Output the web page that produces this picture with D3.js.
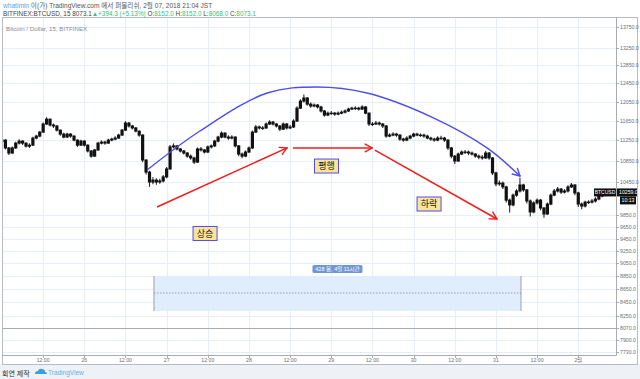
<!DOCTYPE html>
<html>
<head>
<meta charset="utf-8">
<script src="https://cdn.jsdelivr.net/npm/d3@7"></script>
<style>
  body { margin: 0; background: #fff; }
  svg { display: block; font-family: "Liberation Sans", "Noto Sans CJK KR", sans-serif; }
</style>
</head>
<body>
<div id="chart"></div>
<script>
// hourly candles, BITFINEX BTCUSD, from 2018-01-25 00:00
var startTime = new Date(2018, 0, 25, 0, 0);
var endTime = new Date(2018, 1, 1, 11, 0);

var opens = [
  11230,11255,11100,11000,11100,11195,11235,11195,11135,11155,
  11295,11335,11415,11580,11680,11560,11540,11455,11375,11315,
  11375,11335,11255,11155,11235,11155,11040,10940,11060,11195,
  11215,11195,11255,11275,11295,11355,11455,11600,11540,11500,
  11435,11355,10865,10635,10450,10485,10450,10470,10545,10695,
  11120,11140,11080,11040,11000,10940,10905,10825,11080,11060,
  11020,11120,11140,11235,11315,11395,11315,11295,11315,11140,
  10980,10940,11020,11100,11415,11520,11500,11500,11580,11620,
  11580,11540,11475,11580,11500,11520,11640,11910,12060,12125,
  11995,11955,11975,11935,11850,11765,11805,11805,11785,11805,
  11825,11850,11890,11910,11910,11890,11935,11805,11580,11580,
  11600,11580,11540,11335,11355,11375,11355,11275,11255,11295,
  11335,11375,11355,11355,11335,11295,11275,11255,11295,11295,
  11255,11100,10940,10845,10980,11020,11020,11000,10980,10940,
  10920,10905,11000,10905,10620,10415,10430,10360,10120,10035,
  10210,10285,10395,10305,10105,9910,10070,10120,9980,9875,
  10050,10210,10285,10320,10265,10285,10360,10395,10250,10050,
  10015,10085,10085,10105,10140,10195,10210,10230,10250,10265
];
var highs = [
  11290,11270,11120,11130,11220,11270,11250,11210,11190,11320,
  11360,11440,11610,11720,11690,11590,11560,11470,11400,11400,
  11390,11350,11270,11260,11250,11170,11060,11080,11220,11250,
  11240,11280,11300,11330,11380,11480,11640,11620,11560,11520,
  11450,11370,10880,10660,10540,10520,10510,10580,10730,11160,
  11190,11160,11100,11060,11020,10970,10930,11110,11120,11080,
  11150,11170,11260,11340,11430,11410,11350,11350,11330,11160,
  11010,11050,11130,11450,11560,11550,11540,11610,11660,11640,
  11600,11560,11610,11600,11560,11680,11950,12100,12200,12150,
  12030,12010,12000,11960,11870,11840,11850,11830,11840,11860,
  11880,11920,11940,11950,11940,11970,11950,11820,11620,11640,
  11630,11600,11560,11390,11410,11400,11370,11300,11330,11360,
  11400,11400,11390,11380,11360,11320,11300,11330,11340,11320,
  11270,11120,10960,11010,11050,11060,11050,11030,11000,10970,
  10960,11040,11020,10920,10640,10480,10460,10380,10150,10240,
  10320,10530,10420,10320,10130,10100,10150,10140,10000,10080,
  10240,10320,10360,10340,10320,10390,10430,10410,10270,10080,
  10110,10120,10140,10170,10220,10240,10260,10280,10290,10290
];
var lows = [
  11200,11070,10960,10985,11080,11170,11160,11110,11100,11140,
  11270,11310,11400,11560,11530,11500,11430,11340,11290,11300,
  11300,11230,11120,11140,11130,11010,10910,10930,11045,11170,
  11165,11180,11230,11250,11280,11340,11440,11510,11470,11410,
  11320,10820,10590,10360,10410,10400,10420,10440,10520,10680,
  11090,11050,11010,10970,10910,10870,10790,10810,11030,10990,
  11000,11090,11120,11210,11290,11290,11260,11270,11110,10940,
  10900,10920,11000,11080,11400,11470,11460,11480,11560,11550,
  11510,11440,11460,11470,11480,11500,11620,11890,12030,11960,
  11920,11930,11900,11820,11730,11740,11770,11750,11760,11780,
  11800,11830,11870,11870,11860,11870,11780,11540,11540,11560,
  11550,11500,11300,11310,11330,11320,11240,11220,11230,11270,
  11310,11330,11320,11300,11270,11240,11220,11230,11260,11220,
  11060,10900,10790,10830,10960,10980,10960,10950,10910,10880,
  10870,10890,10870,10580,10370,10380,10320,10080,9900,10010,
  10180,10260,10270,10060,9830,9890,10040,9940,9810,9860,
  10030,10190,10260,10230,10240,10260,10340,10210,10000,9960,
  9990,10050,10060,10080,10120,10170,10190,10210,10230,10230
];
var closes = [
  11255,11100,11000,11100,11195,11235,11195,11135,11155,11295,
  11335,11415,11580,11680,11560,11540,11455,11375,11315,11375,
  11335,11255,11155,11235,11155,11040,10940,11060,11195,11215,
  11195,11255,11275,11295,11355,11455,11600,11540,11500,11435,
  11355,10865,10635,10450,10485,10450,10470,10545,10695,11120,
  11140,11080,11040,11000,10940,10905,10825,11080,11060,11020,
  11120,11140,11235,11315,11395,11315,11295,11315,11140,10980,
  10940,11020,11100,11415,11520,11500,11500,11580,11620,11580,
  11540,11475,11580,11500,11520,11640,11910,12060,12125,11995,
  11955,11975,11935,11850,11765,11805,11805,11785,11805,11825,
  11850,11890,11910,11910,11890,11935,11805,11580,11580,11600,
  11580,11540,11335,11355,11375,11355,11275,11255,11295,11335,
  11375,11355,11355,11335,11295,11275,11255,11295,11295,11255,
  11100,10940,10845,10980,11020,11020,11000,10980,10940,10920,
  10905,11000,10905,10620,10415,10430,10360,10120,10035,10210,
  10285,10395,10305,10105,9910,10070,10120,9980,9875,10050,
  10210,10285,10320,10265,10285,10360,10395,10250,10050,10015,
  10085,10085,10105,10140,10195,10210,10230,10250,10265,10259
];

var priceTicks = [13750,13250,12850,12450,12050,11650,11250,10850,10450,9850,9650,9450,9250,9050,8850,8650,8450,8250,7900,7730];
var timeTicks = ["2018-01-25T12:00","2018-01-26T00:00","2018-01-26T12:00","2018-01-27T00:00","2018-01-27T12:00","2018-01-28T00:00","2018-01-28T12:00","2018-01-29T00:00","2018-01-29T12:00","2018-01-30T00:00","2018-01-30T12:00","2018-01-31T00:00","2018-01-31T12:00","2018-02-01T00:00"];
var timeLabels = ["12:00","26","12:00","27","12:00","28","12:00","29","12:00","30","12:00","31","12:00","2월"];
var lastPrice = 10259;
var sepPrice = 8070;

// annotation anchors (hour offset from start, price)
var arcPoints = [[42.3,10674],[57.7,11437],[77.3,12233],[91.8,12364],[106.4,12233],[125.9,11703],[141.4,11100],[151.0,10562]];
var redArrows = [
  [[45.2,9998],[83.1,11100]],
  [[84.8,11100],[107.9,11100]],
  [[108.7,11058],[144.3,9788]]
];
var tags = [["상승",59.2,9540],["평행",94.6,10750],["하락",124.5,10051]];
var rangeBox = {h0: 44.3, h1: 151.3, top: 8848, bottom: 8316, mid: 8586, label: "428 봉, 4일 11시간"};

var width = 640, height = 379;
var left = 2, right = 616, topY = 17, plotBottom = 355, frameRight = 637, frameBottom = 364;

var svg = d3.select("#chart").append("svg")
  .attr("width", width).attr("height", height);

svg.append("rect").attr("x", 0).attr("y", 364).attr("width", width).attr("height", 15).attr("fill", "#eef1f5");
svg.append("rect").attr("x", left + 0.5).attr("y", topY + 0.5)
  .attr("width", frameRight - left).attr("height", frameBottom - topY)
  .attr("fill", "#fff").attr("stroke", "#b7bbc2");

var x = d3.scaleTime().domain([startTime, endTime]).range([left, right]);
var y = d3.scaleLog().domain([sepPrice, 13750]).range([328, 27]);
var hx = function(h) { return x(new Date(startTime.getTime() + h * 3600000)); };

svg.append("defs").append("clipPath").attr("id", "plot")
  .append("rect").attr("x", left + 1).attr("y", topY + 1).attr("width", right - left - 1).attr("height", plotBottom - topY - 1);

// grid
var grid = svg.append("g");
grid.selectAll(".vg").data(timeTicks).enter().append("line")
  .attr("x1", d => Math.round(x(new Date(d))) + 0.5).attr("x2", d => Math.round(x(new Date(d))) + 0.5)
  .attr("y1", topY + 1).attr("y2", plotBottom)
  .attr("stroke", "#e8eef6");
grid.selectAll(".hg").data(priceTicks).enter().append("line")
  .attr("x1", left + 1).attr("x2", right)
  .attr("y1", d => Math.round(y(d)) + 0.5).attr("y2", d => Math.round(y(d)) + 0.5)
  .attr("stroke", "#e8eef6");

// range measure box
var rb = svg.append("g");
rb.append("rect")
  .attr("x", hx(rangeBox.h0)).attr("y", y(rangeBox.top))
  .attr("width", hx(rangeBox.h1) - hx(rangeBox.h0)).attr("height", y(rangeBox.bottom) - y(rangeBox.top))
  .attr("fill", "#ddebfc").attr("fill-opacity", 0.9);
[rangeBox.h0, rangeBox.h1].forEach(function(h) {
  rb.append("line").attr("x1", hx(h)).attr("x2", hx(h))
    .attr("y1", y(rangeBox.top)).attr("y2", y(rangeBox.bottom))
    .attr("stroke", "#9aa0a8").attr("stroke-width", 1);
});
rb.append("line")
  .attr("x1", hx(rangeBox.h0)).attr("x2", hx(rangeBox.h1))
  .attr("y1", y(rangeBox.mid)).attr("y2", y(rangeBox.mid))
  .attr("stroke", "#9aa0a8").attr("stroke-dasharray", "1.5,1.5");
var lblX = (hx(rangeBox.h0) + hx(rangeBox.h1)) / 2;
rb.append("rect").attr("x", lblX - 25).attr("y", y(rangeBox.top) - 11)
  .attr("width", 50).attr("height", 8).attr("rx", 1.5)
  .attr("fill", "#6f97d3");
rb.append("text").attr("x", lblX).attr("y", y(rangeBox.top) - 4.6)
  .attr("text-anchor", "middle").attr("font-size", 5.5).attr("fill", "#fff")
  .text(rangeBox.label);

// separator line at 8070
svg.append("line").attr("x1", left + 1).attr("x2", right)
  .attr("y1", Math.round(y(sepPrice)) + 0.5).attr("y2", Math.round(y(sepPrice)) + 0.5)
  .attr("stroke", "#a8acb2");

// candles
var bars = d3.range(closes.length);
var candles = svg.append("g").attr("clip-path", "url(#plot)");
candles.selectAll(".wick").data(bars).enter().append("line")
  .attr("x1", d => hx(d)).attr("x2", d => hx(d))
  .attr("y1", d => y(highs[d])).attr("y2", d => y(lows[d]))
  .attr("stroke", "#2a2a2a").attr("stroke-width", 1.1);
candles.selectAll(".body").data(bars).enter().append("rect")
  .attr("x", d => hx(d) - 1.6)
  .attr("y", d => y(Math.max(opens[d], closes[d])) - 0.5)
  .attr("width", 3.2)
  .attr("height", d => Math.max(1.5, Math.abs(y(opens[d]) - y(closes[d])) + 1))
  .attr("fill", "#111");

// blue arc
var arcLine = d3.line().x(d => hx(d[0])).y(d => y(d[1])).curve(d3.curveCatmullRom);
var arcPath = svg.append("path").attr("d", arcLine(arcPoints))
  .attr("fill", "none").attr("stroke", "#4d4df2").attr("stroke-width", 1.4);

function arrowHead(g, tip, from, color, len) {
  var a = Math.atan2(tip[1] - from[1], tip[0] - from[0]);
  [0.5, -0.5].forEach(function(off) {
    g.append("line")
      .attr("x1", tip[0]).attr("y1", tip[1])
      .attr("x2", tip[0] - len * Math.cos(a + off)).attr("y2", tip[1] - len * Math.sin(a + off))
      .attr("stroke", color).attr("stroke-width", 1.4).attr("stroke-linecap", "round");
  });
}

var pn = arcPath.node(), plen = pn.getTotalLength();
var pEnd = pn.getPointAtLength(plen), pPrev = pn.getPointAtLength(plen - 4);
arrowHead(svg, [pEnd.x, pEnd.y], [pPrev.x, pPrev.y], "#4d4df2", 8);

// red arrows
redArrows.forEach(function(a) {
  var p0 = [hx(a[0][0]), y(a[0][1])], p1 = [hx(a[1][0]), y(a[1][1])];
  svg.append("line").attr("x1", p0[0]).attr("y1", p0[1]).attr("x2", p1[0]).attr("y2", p1[1])
    .attr("stroke", "#f21c1c").attr("stroke-width", 1.5);
  arrowHead(svg, p1, p0, "#f21c1c", 8);
});

// tags
tags.forEach(function(t) {
  var cx = hx(t[1]), cy = y(t[2]);
  svg.append("rect").attr("x", cx - 12).attr("y", cy - 7).attr("width", 24).attr("height", 14)
    .attr("fill", "#fbe497").attr("stroke", "#4d4df2").attr("stroke-width", 1);
  svg.append("text").attr("x", cx).attr("y", cy + 3.2).attr("text-anchor", "middle")
    .attr("font-size", 9).attr("fill", "#111").text(t[0]);
});

// axes lines
svg.append("line").attr("x1", right + 0.5).attr("x2", right + 0.5).attr("y1", topY).attr("y2", plotBottom + 0.5)
  .attr("stroke", "#a8acb2");
svg.append("line").attr("x1", left).attr("x2", right + 0.5).attr("y1", plotBottom + 0.5).attr("y2", plotBottom + 0.5)
  .attr("stroke", "#a8acb2");

// price axis
var pa = svg.append("g");
pa.selectAll("line").data(priceTicks.concat([sepPrice])).enter().append("line")
  .attr("x1", right).attr("x2", right + 3)
  .attr("y1", d => Math.round(y(d)) + 0.5).attr("y2", d => Math.round(y(d)) + 0.5)
  .attr("stroke", "#a8acb2");
pa.selectAll("text").data(priceTicks.concat([sepPrice])).enter().append("text")
  .attr("x", right + 4).attr("y", d => y(d) + 2)
  .attr("font-size", 5.2).attr("fill", "#6a6e75")
  .text(d => d3.format(".1f")(d));

// last price tags
var ly = y(lastPrice);
svg.append("rect").attr("x", 594).attr("y", ly - 4).attr("width", 22).attr("height", 8).attr("fill", "#111");
svg.append("text").attr("x", 605).attr("y", ly + 2).attr("text-anchor", "middle")
  .attr("font-size", 5).attr("fill", "#fff").text("BTCUSD");
svg.append("rect").attr("x", right + 1).attr("y", ly - 4).attr("width", 20).attr("height", 8).attr("fill", "#111");
svg.append("text").attr("x", right + 3).attr("y", ly + 2)
  .attr("font-size", 5.2).attr("fill", "#fff").text(d3.format(".1f")(lastPrice));
svg.append("rect").attr("x", right + 4).attr("y", ly + 4).attr("width", 16).attr("height", 8).attr("fill", "#111");
svg.append("text").attr("x", right + 12).attr("y", ly + 10).attr("text-anchor", "middle")
  .attr("font-size", 5.2).attr("fill", "#fff").text("10:13");

// time axis
var ta = svg.append("g");
ta.selectAll("line").data(timeTicks).enter().append("line")
  .attr("x1", d => Math.round(x(new Date(d))) + 0.5).attr("x2", d => Math.round(x(new Date(d))) + 0.5)
  .attr("y1", plotBottom).attr("y2", plotBottom + 3)
  .attr("stroke", "#a8acb2");
ta.selectAll("text").data(timeTicks).enter().append("text")
  .attr("x", d => x(new Date(d))).attr("y", 362)
  .attr("text-anchor", "middle").attr("font-size", 5.2).attr("fill", "#6a6e75")
  .text((d, i) => timeLabels[i]);

// chart title inside
svg.append("text").attr("x", 6).attr("y", 31).attr("font-size", 6.2).attr("fill", "#8a8e95")
  .text("Bitcoin / Dollar, 15, BITFINEX");

// header
var h1 = svg.append("text").attr("x", 3).attr("y", 7.5).attr("font-size", 6.6);
h1.append("tspan").attr("fill", "#5aa5e0").text("whatimin");
h1.append("tspan").attr("fill", "#555").text(" 이(가) TradingView.com 에서 퍼블리쉬, 2월 07, 2018 21:04 JST");

var h2 = svg.append("text").attr("x", 3).attr("y", 15.5).attr("font-size", 6.4);
var green = "#3dbb7a", dark = "#444";
[["BITFINEX:BTCUSD, 15 8073.1", dark], ["▲+394.3 (+5.13%) ", green], ["O:", dark], ["8152.0", green],
 [" H:", dark], ["8152.0", green], [" L:", dark], ["8068.0", green], [" C:", dark], ["8073.1", green]]
  .forEach(function(p) { h2.append("tspan").attr("fill", p[1]).text(p[0]); });

// footer
svg.append("text").attr("x", 2).attr("y", 375.5).attr("font-size", 7).attr("fill", "#333").text("회연 제작");
var logo = svg.append("g").attr("transform", "translate(35,371)");
logo.append("path").attr("d", "M0,3 Q0,0 3,0 Q4,-3 7,-2 Q10,-2 10,1 Q12,1 12,3 Z").attr("fill", "#3d9ddf");
svg.append("text").attr("x", 48).attr("y", 375).attr("font-size", 6.5).attr("fill", "#5ab3e8").text("TradingView");
</script>
</body>
</html>
